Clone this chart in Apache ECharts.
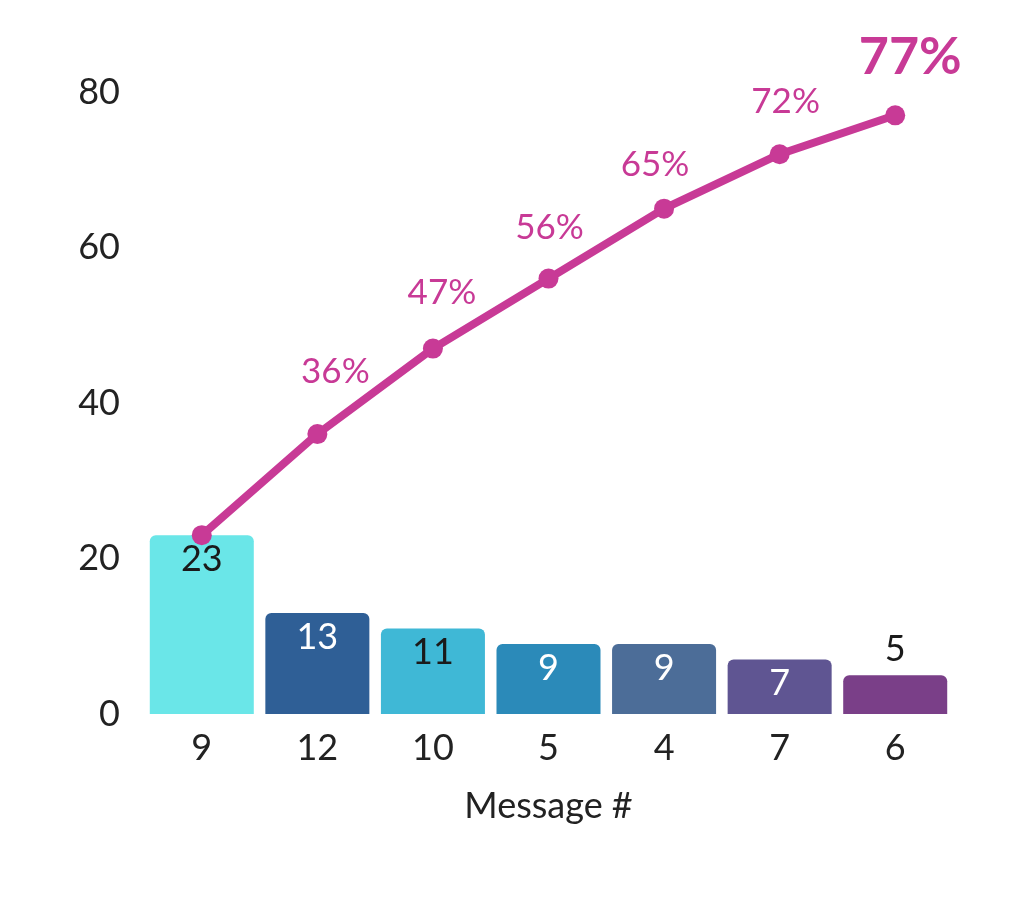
<!DOCTYPE html>
<html><head><meta charset="utf-8">
<script src="https://cdn.jsdelivr.net/npm/echarts@6/dist/echarts.min.js"></script>
<style>html,body{margin:0;padding:0;background:#fff}#c{width:1024px;height:910px}</style>
</head><body><div id="c"></div>
<script>
const categories = ['9','12','10','5','4','7','6'];
const counts = [23,13,11,9,9,7,5];
const cumulative = [23,36,47,56,65,72,77];
const yTicks = [0,20,40,60,80];

// styling
const barColors = ['#6ae6e8','#2f5f96','#3fb8d6','#2b8ab9','#4c6d98','#5f5592','#7a3f88'];
const barLabelColors = ['#1a1a1a','#ffffff','#1a1a1a','#ffffff','#ffffff','#ffffff','#1a1a1a'];
const barLabelPos = ['insideTop','insideTop','insideTop','insideTop','insideTop','insideTop','top'];
const pctLabelDist = [0,35,28,23,16,25,22];
const pctLabelDx = [0,18,9,1,-9,6,15];
const lineColor = '#c83a96';
const font = 'Lato, "Noto Sans", sans-serif';

const chart = echarts.init(document.getElementById('c'));
chart.setOption({
  animation: false,
  grid: {left: 144, right: 71, top: 92, bottom: 196},
  xAxis: {
    type: 'category', data: categories,
    axisLine: {show: false}, axisTick: {show: false},
    axisLabel: {fontSize: 36, color: '#222', fontFamily: font, margin: 16},
    name: 'Message #', nameLocation: 'middle', nameGap: 74,
    nameTextStyle: {fontSize: 36, color: '#222', fontFamily: font}
  },
  yAxis: {
    type: 'value', min: 0, max: 80, interval: 20,
    axisLine: {show: false}, axisTick: {show: false}, splitLine: {show: false},
    axisLabel: {fontSize: 36, color: '#222', fontFamily: font, margin: 24,
      formatter: v => yTicks.includes(v) ? String(v) : ''}
  },
  series: [
    {
      type: 'bar', barCategoryGap: '10%',
      data: counts.map((v,i) => ({
        value: v,
        itemStyle: {color: barColors[i], borderRadius: [6,6,0,0]},
        label: {show: true, position: barLabelPos[i], color: barLabelColors[i],
          fontSize: 36, fontFamily: font, distance: barLabelPos[i] === 'top' ? 8 : 6}
      }))
    },
    {
      type: 'line', data: cumulative.map((v,i) => ({
        value: v,
        label: i === 0 ? {show: false} : (i === cumulative.length-1 ?
          {show: true, fontSize: 52, fontWeight: 'bold', distance: pctLabelDist[i], offset: [pctLabelDx[i], 0]} :
          {show: true, fontSize: 35, distance: pctLabelDist[i], offset: [pctLabelDx[i], 0]})
      })),
      symbol: 'circle', symbolSize: 20,
      lineStyle: {color: lineColor, width: 8},
      itemStyle: {color: lineColor},
      label: {show: true, position: 'top', color: lineColor, fontFamily: font,
        formatter: p => p.value + '%'},
      z: 5
    }
  ]
});
</script></body></html>
